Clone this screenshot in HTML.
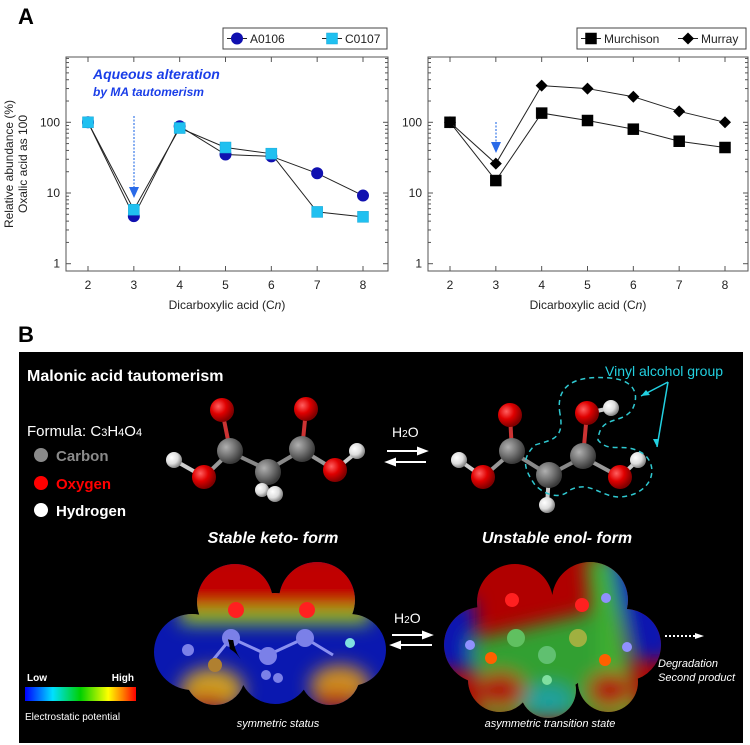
<!DOCTYPE html>
<html><head><meta charset="utf-8"><style>
body{margin:0;background:#fff;}
svg{display:block;font-family:"Liberation Sans",Arial,sans-serif;}
</style></head><body>
<svg width="750" height="745" viewBox="0 0 750 745">
<defs>
<radialGradient id="gO" cx="35%" cy="35%" r="65%"><stop offset="0" stop-color="#ff6060"/><stop offset="0.5" stop-color="#e00000"/><stop offset="1" stop-color="#800000"/></radialGradient>
<radialGradient id="gC" cx="35%" cy="35%" r="65%"><stop offset="0" stop-color="#b0b0b0"/><stop offset="0.5" stop-color="#777"/><stop offset="1" stop-color="#3a3a3a"/></radialGradient>
<radialGradient id="gH" cx="35%" cy="35%" r="65%"><stop offset="0" stop-color="#fff"/><stop offset="0.6" stop-color="#ddd"/><stop offset="1" stop-color="#888"/></radialGradient>
<linearGradient id="cbar" x1="0" x2="1"><stop offset="0" stop-color="#0000ff"/><stop offset="0.25" stop-color="#00e0ff"/><stop offset="0.5" stop-color="#00d000"/><stop offset="0.75" stop-color="#ffff00"/><stop offset="0.88" stop-color="#ff8000"/><stop offset="1" stop-color="#ff0000"/></linearGradient>
<filter id="blur" x="-30%" y="-30%" width="160%" height="160%"><feGaussianBlur stdDeviation="9"/></filter>
<clipPath id="clipK"><circle cx="235" cy="602" r="38"/><circle cx="317" cy="600" r="38"/><circle cx="192" cy="652" r="38"/><circle cx="350" cy="650" r="36"/><circle cx="215" cy="675" r="30"/><circle cx="330" cy="675" r="30"/><circle cx="275" cy="668" r="36"/><circle cx="275" cy="635" r="42"/></clipPath>
<clipPath id="clipE"><circle cx="515" cy="602" r="38"/><circle cx="590" cy="600" r="38"/><circle cx="482" cy="645" r="38"/><circle cx="625" cy="645" r="36"/><circle cx="500" cy="680" r="32"/><circle cx="608" cy="682" r="30"/><circle cx="548" cy="690" r="28"/><circle cx="552" cy="645" r="46"/></clipPath>
</defs>

<text x="18" y="24" font-size="22" font-weight="bold">A</text>
<text x="18" y="342" font-size="22" font-weight="bold">B</text>

<g id="chartL"></g>
<g id="chartR"></g>

<rect x="19" y="352" width="724" height="391" fill="#000"/>
<text x="27" y="381" font-size="16" font-weight="bold" fill="#fff">Malonic acid tautomerism</text>
<text x="27" y="436" font-size="15" fill="#fff">Formula: C<tspan font-size="11">3</tspan>H<tspan font-size="11">4</tspan>O<tspan font-size="11">4</tspan></text>
<circle cx="41" cy="455" r="7" fill="#8a8a8a"/>
<text x="56" y="461" font-size="15" font-weight="bold" fill="#8a8a8a">Carbon</text>
<circle cx="41" cy="483" r="7" fill="#ff0000"/>
<text x="56" y="489" font-size="15" font-weight="bold" fill="#ff0000">Oxygen</text>
<circle cx="41" cy="510" r="7" fill="#fff"/>
<text x="56" y="516" font-size="15" font-weight="bold" fill="#fff">Hydrogen</text>

<g stroke-width="4">
<line x1="222" y1="410" x2="230" y2="450" stroke="#c33"/><line x1="306" y1="410" x2="302" y2="450" stroke="#c33"/>
<line x1="230" y1="452" x2="268" y2="470" stroke="#888"/><line x1="302" y1="450" x2="268" y2="470" stroke="#888"/>
<line x1="230" y1="452" x2="204" y2="477" stroke="#999"/><line x1="302" y1="450" x2="335" y2="470" stroke="#999"/>
<line x1="204" y1="477" x2="174" y2="460" stroke="#ccc"/><line x1="335" y1="470" x2="357" y2="452" stroke="#ccc"/>
<circle cx="222" cy="410" r="12" fill="url(#gO)" stroke="none"/><circle cx="306" cy="409" r="12" fill="url(#gO)" stroke="none"/>
<circle cx="174" cy="460" r="8" fill="url(#gH)" stroke="none"/><circle cx="357" cy="451" r="8" fill="url(#gH)" stroke="none"/>
<circle cx="204" cy="477" r="12" fill="url(#gO)" stroke="none"/><circle cx="335" cy="470" r="12" fill="url(#gO)" stroke="none"/>
<circle cx="230" cy="451" r="13" fill="url(#gC)" stroke="none"/><circle cx="302" cy="449" r="13" fill="url(#gC)" stroke="none"/>
<circle cx="268" cy="472" r="13" fill="url(#gC)" stroke="none"/>
<circle cx="262" cy="490" r="7" fill="url(#gH)" stroke="none"/><circle cx="275" cy="494" r="8" fill="url(#gH)" stroke="none"/>
</g>

<g stroke-width="4">
<line x1="510" y1="415" x2="512" y2="452" stroke="#c33"/><line x1="512" y1="452" x2="549" y2="475" stroke="#888"/>
<line x1="549" y1="475" x2="583" y2="457" stroke="#888"/><line x1="583" y1="457" x2="587" y2="413" stroke="#c33"/>
<line x1="512" y1="452" x2="483" y2="477" stroke="#999"/><line x1="483" y1="477" x2="459" y2="460" stroke="#ccc"/>
<line x1="583" y1="457" x2="620" y2="477" stroke="#999"/><line x1="620" y1="477" x2="638" y2="460" stroke="#ccc"/>
<line x1="587" y1="413" x2="611" y2="408" stroke="#ccc"/><line x1="549" y1="475" x2="547" y2="505" stroke="#ccc"/>
<circle cx="510" cy="415" r="12" fill="url(#gO)" stroke="none"/><circle cx="459" cy="460" r="8" fill="url(#gH)" stroke="none"/>
<circle cx="483" cy="477" r="12" fill="url(#gO)" stroke="none"/><circle cx="611" cy="408" r="8" fill="url(#gH)" stroke="none"/>
<circle cx="587" cy="413" r="12" fill="url(#gO)" stroke="none"/><circle cx="638" cy="460" r="8" fill="url(#gH)" stroke="none"/>
<circle cx="620" cy="477" r="12" fill="url(#gO)" stroke="none"/><circle cx="547" cy="505" r="8" fill="url(#gH)" stroke="none"/>
<circle cx="512" cy="451" r="13" fill="url(#gC)" stroke="none"/><circle cx="583" cy="456" r="13" fill="url(#gC)" stroke="none"/>
<circle cx="549" cy="475" r="13" fill="url(#gC)" stroke="none"/>
</g>
<path d="M560,414 C555,385 575,375 610,378 C635,380 640,395 632,410 C620,425 600,415 598,440 C610,455 625,440 645,455 C660,470 650,495 620,497 C600,497 590,480 570,490 C560,500 545,495 535,485 C525,470 520,460 535,445 C550,440 565,440 560,414 Z" fill="none" stroke="#2fc8d0" stroke-width="1.5" stroke-dasharray="5,4"/>
<text x="605" y="376" font-size="14" fill="#22d0e0">Vinyl alcohol group</text>
<path d="M668,382 L641,396 M668,382 L657,447" stroke="#22d0e0" stroke-width="1.5" fill="none"/>
<path d="M641,396 l9,-1 l-4,-5 Z M657,447 l-4,-8 l6,0 Z" fill="#22d0e0"/>

<text x="392" y="437" font-size="14" fill="#fff">H<tspan font-size="10">2</tspan>O</text>
<g stroke="#fff" stroke-width="2" fill="#fff">
<line x1="387" y1="451" x2="420" y2="451"/><path d="M426,451 l-8,-3 v6 Z"/>
<line x1="393" y1="462" x2="426" y2="462"/><path d="M387,462 l8,-3 v6 Z"/>
</g>
<text x="273" y="543" font-size="16" font-weight="bold" font-style="italic" fill="#fff" text-anchor="middle">Stable keto- form</text>
<text x="557" y="543" font-size="16" font-weight="bold" font-style="italic" fill="#fff" text-anchor="middle">Unstable enol- form</text>

<g clip-path="url(#clipK)">
<rect x="140" y="550" width="260" height="170" fill="#0a18b0"/>
<g filter="url(#blur)">
<rect x="180" y="550" width="190" height="60" fill="#c00000"/>
<rect x="180" y="610" width="190" height="14" fill="#8ad020"/>
<ellipse cx="212" cy="690" rx="32" ry="22" fill="#d0a020"/>
<ellipse cx="340" cy="685" rx="30" ry="20" fill="#d09020"/>
<ellipse cx="205" cy="705" rx="25" ry="10" fill="#b02010"/>
<ellipse cx="335" cy="702" rx="22" ry="10" fill="#b02010"/>
</g>
<g fill="#7b80e8" stroke="#8a90f0" stroke-width="3">
<line x1="231" y1="638" x2="268" y2="655"/><line x1="305" y1="638" x2="268" y2="655"/><line x1="231" y1="638" x2="213" y2="660"/><line x1="305" y1="638" x2="333" y2="655"/>
</g>
<g fill="#7b80e8" stroke="none">
<circle cx="188" cy="650" r="6"/><circle cx="231" cy="638" r="9"/><circle cx="305" cy="638" r="9"/><circle cx="268" cy="656" r="9"/><circle cx="266" cy="675" r="5"/><circle cx="278" cy="678" r="5"/></g>
<circle cx="236" cy="610" r="8" fill="#ff2020"/><circle cx="307" cy="610" r="8" fill="#ff2020"/>
<circle cx="350" cy="643" r="5" fill="#80e0e0"/><circle cx="215" cy="665" r="7" fill="#b08030"/>
</g>
<g clip-path="url(#clipE)">
<rect x="430" y="550" width="240" height="180" fill="#b00000"/>
<g filter="url(#blur)">
<rect x="420" y="600" width="55" height="70" fill="#0a18b0"/>
<path d="M605,555 L675,555 L675,660 L635,660 Z" fill="#0a18b0"/>
<path d="M585,555 L610,555 L640,720 L600,720 Z" fill="#40b030"/>
<path d="M470,640 L600,610 L600,720 L480,720 Z" fill="#30a030"/>
<ellipse cx="548" cy="700" rx="25" ry="15" fill="#1fa0a0"/>
<ellipse cx="500" cy="690" rx="25" ry="18" fill="#b01010"/>
<ellipse cx="610" cy="690" rx="22" ry="18" fill="#b01010"/>
</g>
<circle cx="512" cy="600" r="7" fill="#ff2020"/><circle cx="582" cy="605" r="7" fill="#ff2020"/>
<circle cx="516" cy="638" r="9" fill="#60c060"/><circle cx="578" cy="638" r="9" fill="#a0b040"/><circle cx="547" cy="655" r="9" fill="#60c070"/>
<circle cx="491" cy="658" r="6" fill="#ff6000"/><circle cx="605" cy="660" r="6" fill="#ff6000"/>
<circle cx="470" cy="645" r="5" fill="#9090ff"/><circle cx="627" cy="647" r="5" fill="#9090ff"/><circle cx="606" cy="598" r="5" fill="#9090ff"/>
<circle cx="547" cy="680" r="5" fill="#80e0a0"/>
</g>
<text x="394" y="623" font-size="14" fill="#fff">H<tspan font-size="10">2</tspan>O</text>
<g stroke="#fff" stroke-width="2" fill="#fff">
<line x1="392" y1="635" x2="425" y2="635"/><path d="M431,635 l-8,-3 v6 Z"/>
<line x1="398" y1="645" x2="432" y2="645"/><path d="M392,645 l8,-3 v6 Z"/>
</g>
<line x1="665" y1="636" x2="697" y2="636" stroke="#fff" stroke-width="2" stroke-dasharray="2,2"/>
<path d="M704,636 l-9,-3 v6 Z" fill="#fff"/>
<text x="658" y="667" font-size="11" font-style="italic" fill="#fff">Degradation</text>
<text x="658" y="681" font-size="11" font-style="italic" fill="#fff">Second product</text>
<text x="278" y="727" font-size="11" font-style="italic" fill="#fff" text-anchor="middle">symmetric status</text>
<text x="550" y="727" font-size="11" font-style="italic" fill="#fff" text-anchor="middle">asymmetric transition state</text>
<text x="27" y="681" font-size="10" font-weight="bold" fill="#fff">Low</text>
<text x="134" y="681" font-size="10" font-weight="bold" fill="#fff" text-anchor="end">High</text>
<rect x="25" y="687" width="111" height="14" fill="url(#cbar)"/>
<text x="25" y="720" font-size="10" fill="#fff">Electrostatic potential</text>
</svg>
<script>
const categories=[2,3,4,5,6,7,8];
const a0106=[100,4.7,88,35,33,19,9.2];
const c0107=[100,5.8,83,44,36,5.4,4.6];
const murchison=[100,15,135,106,80,54,44];
const murray=[100,26,330,300,230,143,100];
const yTickLabels=["1","10","100"];
const yTickValues=[1,10,100];
const NS='http://www.w3.org/2000/svg';
function mk(p,tag,attrs){const e=document.createElementNS(NS,tag);for(const k in attrs)e.setAttribute(k,attrs[k]);p.appendChild(e);return e;}
function drawChart(g,L,R,x2px,x8px,series,legend){
  const T=57,B=271;
  const xs=v=>x2px+(v-2)*(x8px-x2px)/6;
  const ys=v=>193-(Math.log10(v)-1)*70.7;
  const frame=mk(g,'rect',{x:L,y:T,width:R-L,height:B-T,fill:'none',stroke:'#555','stroke-width':1});
  
  
  categories.forEach(c=>{const x=xs(c);
    mk(g,'line',{x1:x,y1:B,x2:x,y2:B-5,stroke:'#555'});mk(g,'line',{x1:x,y1:T,x2:x,y2:T+5,stroke:'#555'});
    const t=mk(g,'text',{x:x,y:B+18,'font-size':12,'text-anchor':'middle',fill:'#222'});t.textContent=c;
    
    });
  for(let d=0;d<3;d++)for(let m=1;m<10;m++){const v=Math.pow(10,d)*m;const y=ys(v);if(y<T)continue;const len=m==1?5:3;
    mk(g,'line',{x1:L,y1:y,x2:L+len,y2:y,stroke:'#555'});mk(g,'line',{x1:R,y1:y,x2:R-len,y2:y,stroke:'#555'});}
  yTickValues.forEach((v,i)=>{const t=mk(g,'text',{x:L-6,y:ys(v)+4,'font-size':12,'text-anchor':'end',fill:'#222'});t.textContent=yTickLabels[i];
    
    });
  const xt=mk(g,'text',{x:(L+R)/2,y:B+38,'font-size':12,'text-anchor':'middle',fill:'#222'});
  xt.innerHTML='Dicarboxylic acid (C<tspan font-style="italic">n</tspan>)';
  
  
  series.forEach(s=>{
    const pts=s.vals.map((v,i)=>xs(categories[i])+','+ys(v)).join(' ');
    const pl=mk(g,'polyline',{points:pts,fill:'none',stroke:'#222','stroke-width':1});
    
    
    s.vals.forEach((v,i)=>{const m=marker(g,s.shape,xs(categories[i]),ys(v),s.color);
      
      });
  });
  const lg=mk(g,'g',{});
  
  
  mk(lg,'rect',{x:legend.x,y:28,width:legend.w,height:21,fill:'#fff',stroke:'#444'});
  series.forEach((s,i)=>{const ox=legend.x+legend.offs[i];
    mk(lg,'line',{x1:ox+4,y1:38.5,x2:ox+24,y2:38.5,stroke:'#222'});marker(lg,s.shape,ox+14,38.5,s.color);
    const t=mk(lg,'text',{x:ox+27,y:43,'font-size':12,fill:'#222'});t.textContent=s.label;
    
    });
}
function marker(g,shape,x,y,color){
  if(shape==='circle')return mk(g,'circle',{cx:x,cy:y,r:5.5,fill:color,stroke:color});
  if(shape==='square')return mk(g,'rect',{x:x-5.5,y:y-5.5,width:11,height:11,fill:color,stroke:color=='#000'?'#000':'#1aa8d8','stroke-width':0.5});
  return mk(g,'path',{d:`M${x},${y-6} L${x+6},${y} L${x},${y+6} L${x-6},${y} Z`,fill:color});
}
const gl=document.getElementById('chartL'),gr=document.getElementById('chartR');
drawChart(gl,66,388,88,363,[{name:'a0106',label:'A0106',vals:a0106,shape:'circle',color:'#1010b0'},{name:'c0107',label:'C0107',vals:c0107,shape:'square',color:'#20c0f0'}],{x:223,w:164,offs:[0,95]});
drawChart(gr,428,748,450,725,[{name:'murchison',label:'Murchison',vals:murchison,shape:'square',color:'#000'},{name:'murray',label:'Murray',vals:murray,shape:'diamond',color:'#000'}],{x:577,w:169,offs:[0,97]});
function ann(g,tag,attrs,name,txt){const e=mk(g,tag,attrs);if(txt)e.textContent=txt;return e;}
ann(gl,'text',{x:93,y:79,'font-size':14,'font-weight':'bold','font-style':'italic',fill:'#1a3ee8'},'annotation-line1','Aqueous alteration');
ann(gl,'text',{x:93,y:96,'font-size':12,'font-weight':'bold','font-style':'italic',fill:'#1a3ee8'},'annotation-line2','by MA tautomerism');
ann(gl,'line',{x1:134,y1:116,x2:134,y2:188,stroke:'#3a7ae8','stroke-dasharray':'2,1.5','stroke-width':1.2},'c3-arrow');
ann(gl,'path',{d:'M129,187 L139,187 L134,198 Z',fill:'#2a6ae8'},'c3-arrowhead');
ann(gr,'line',{x1:496,y1:122,x2:496,y2:143,stroke:'#3a7ae8','stroke-dasharray':'2,1.5','stroke-width':1.2},'c3-arrow-right');
ann(gr,'path',{d:'M491,142 L501,142 L496,153 Z',fill:'#2a6ae8'},'c3-arrowhead-right');
ann(gl,'text',{x:0,y:0,'font-size':12,'text-anchor':'middle',fill:'#222',transform:'translate(13,164) rotate(-90)'},'y-axis-title','Relative abundance (%)');
ann(gl,'text',{x:0,y:0,'font-size':12,'text-anchor':'middle',fill:'#222',transform:'translate(27,164) rotate(-90)'},'y-axis-title-line2','Oxalic acid as 100');
</script>
</body></html>
